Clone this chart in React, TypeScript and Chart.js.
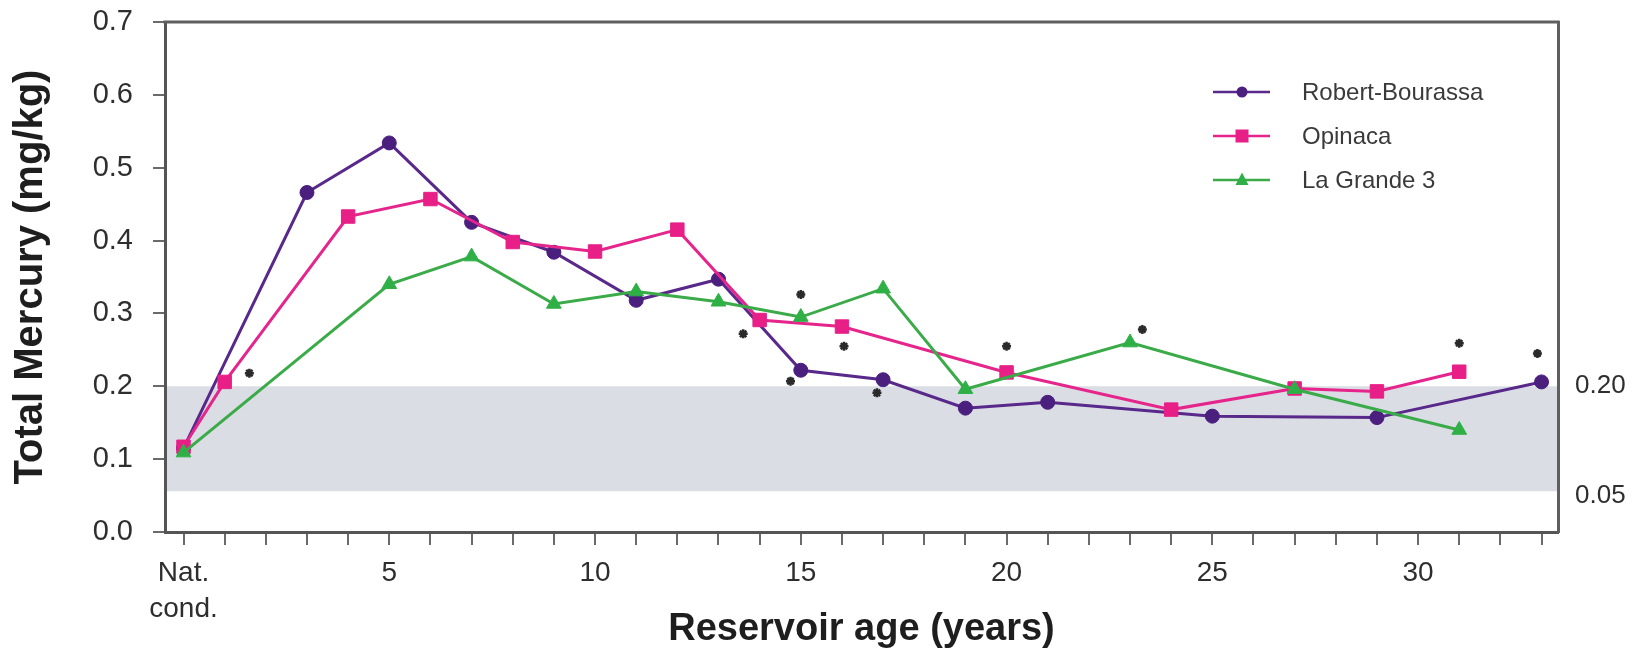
import React, { useEffect, useRef } from 'react';
import { Chart, registerables } from 'chart.js';

Chart.register(...registerables);

// ---- Data ----
const rbYears = [0, 3, 5, 7, 9, 11, 13, 15, 17, 19, 21, 25, 29, 33];
const rbValues = [0.115, 0.466, 0.534, 0.425, 0.384, 0.318, 0.347, 0.222, 0.209, 0.170, 0.178, 0.159, 0.157, 0.206];

const opYears = [0, 1, 4, 6, 8, 10, 12, 14, 16, 20, 24, 27, 29, 31];
const opValues = [0.117, 0.206, 0.433, 0.457, 0.398, 0.385, 0.415, 0.291, 0.282, 0.219, 0.168, 0.197, 0.193, 0.220];

const lgYears = [0, 5, 7, 9, 11, 13, 15, 17, 19, 23, 27, 31];
const lgValues = [0.109, 0.340, 0.378, 0.313, 0.330, 0.316, 0.295, 0.334, 0.196, 0.260, 0.196, 0.140];

// significance asterisks
const starYears = [1.6, 13.6, 14.75, 15.0, 16.05, 16.85, 20.0, 23.3, 31.0, 32.9];
const starValues = [0.218, 0.272, 0.207, 0.326, 0.255, 0.191, 0.255, 0.278, 0.259, 0.245];

const seriesNames = ['Robert-Bourassa', 'Opinaca', 'La Grande 3'];
const xLabelYears = [5, 10, 15, 20, 25, 30];
const natLabel = ['Nat.', 'cond.'];
const yTickValues = [0, 0.1, 0.2, 0.3, 0.4, 0.5, 0.6, 0.7];
const rightTickValues = [0.05, 0.2];
const bandRange = [0.056, 0.2];
const xAxisTitle = 'Reservoir age (years)';
const yAxisTitle = 'Total Mercury (mg/kg)';

const FONT = "'Liberation Sans', Arial, Helvetica, sans-serif";
const COLORS = ['#58288a', '#e5258b', '#3aab48'];
const MARKER_FILL = ['#4a1f7e', '#e81f86', '#2fb046'];
const STYLES = ['circle', 'rect', 'triangle'];
const RADII = [7, 9.5, 8.5];

const toPoints = (xs: number[], ys: number[]) => xs.map((x, i) => ({ x, y: ys[i] }));

const bandPlugin = {
  id: 'band',
  beforeDraw(chart: any) {
    const { ctx, chartArea, scales } = chart;
    const y = scales.y;
    const top = y.getPixelForValue(bandRange[1]);
    const bottom = y.getPixelForValue(bandRange[0]);
    ctx.save();
    ctx.fillStyle = '#dadde4';
    ctx.fillRect(chartArea.left, top, chartArea.right - chartArea.left, bottom - top);
    ctx.restore();
  },
};

const frameTopPlugin = {
  id: 'frameTop',
  afterDraw(chart: any) {
    const { ctx, chartArea } = chart;
    ctx.save();
    ctx.strokeStyle = '#5f5f5f';
    ctx.lineWidth = 3;
    ctx.beginPath();
    ctx.moveTo(chartArea.left - 1.5, chartArea.top);
    ctx.lineTo(chartArea.right + 1.5, chartArea.top);
    ctx.stroke();
    ctx.restore();
  },
};

function drawMarker(ctx: CanvasRenderingContext2D, style: string, x: number, y: number, r: number) {
  ctx.beginPath();
  if (style === 'circle') {
    ctx.arc(x, y, r, 0, Math.PI * 2);
  } else if (style === 'rect') {
    ctx.rect(x - r, y - r, 2 * r, 2 * r);
  } else {
    ctx.moveTo(x, y - r * 1.15);
    ctx.lineTo(x + r, y + r * 0.75);
    ctx.lineTo(x - r, y + r * 0.75);
    ctx.closePath();
  }
  ctx.fill();
}

const legendPlugin = {
  id: 'customLegend',
  afterDraw(chart: any) {
    const { ctx } = chart;
    const x0 = 1213;
    const x1 = 1270;
    const xm = 1242;
    const xt = 1302;
    const y0 = 92;
    const dy = 44;
    const legendR = [5.5, 6.5, 6.5];
    ctx.save();
    chart.data.datasets.forEach((ds: any, i: number) => {
      if (i >= seriesNames.length) return;
      const y = y0 + dy * i;
      ctx.strokeStyle = COLORS[i];
      ctx.lineWidth = 2.5;
      ctx.beginPath();
      ctx.moveTo(x0, y);
      ctx.lineTo(x1, y);
      ctx.stroke();
      ctx.fillStyle = MARKER_FILL[i];
      drawMarker(ctx, STYLES[i], xm, y, legendR[i]);
      ctx.fillStyle = '#3a3a3a';
      ctx.font = `24px ${FONT}`;
      ctx.textBaseline = 'middle';
      ctx.textAlign = 'left';
      ctx.fillText(ds.label, xt, y + 1);
    });
    ctx.restore();
  },
};

export default function App() {
  const canvasRef = useRef<HTMLCanvasElement | null>(null);

  useEffect(() => {
    if (!canvasRef.current) return;
    const lineSeries = [
      toPoints(rbYears, rbValues),
      toPoints(opYears, opValues),
      toPoints(lgYears, lgValues),
    ];
    const datasets: any[] = lineSeries.map((pts, i) => ({
      label: seriesNames[i],
      data: pts,
      borderColor: COLORS[i],
      backgroundColor: MARKER_FILL[i],
      pointBackgroundColor: MARKER_FILL[i],
      pointBorderColor: MARKER_FILL[i],
      borderWidth: 3,
      pointBorderWidth: 1,
      pointStyle: STYLES[i],
      pointRadius: RADII[i],
      fill: false,
      tension: 0,
      order: 3 - i,
    }));
    datasets.push({
      label: 'significant',
      data: toPoints(starYears, starValues),
      showLine: false,
      pointStyle: 'star',
      pointRadius: 4.5,
      pointBorderWidth: 2.5,
      pointBorderColor: '#2a2a2a',
      pointBackgroundColor: '#2a2a2a',
      borderColor: '#2a2a2a',
      order: 0,
    });

    const chart = new Chart(canvasRef.current, {
      type: 'line',
      data: { datasets },
      plugins: [bandPlugin, frameTopPlugin, legendPlugin],
      options: {
        animation: false,
        responsive: true,
        maintainAspectRatio: false,
        layout: { padding: { top: 22, left: 0, right: 0, bottom: 0 } },
        plugins: {
          legend: { display: false },
          tooltip: { enabled: false },
        },
        scales: {
          x: {
            type: 'linear',
            min: -0.45,
            max: 33.4,
            afterBuildTicks: (scale: any) => {
              const t: any[] = [];
              for (let v = 0; v <= 33; v++) t.push({ value: v });
              scale.ticks = t;
            },
            afterFit: (scale: any) => {
              scale.height = 120;
              scale.paddingLeft = 0;
              scale.paddingRight = 0;
            },
            ticks: {
              autoSkip: false,
              maxRotation: 0,
              minRotation: 0,
              padding: 10,
              color: '#2e2e2e',
              font: { family: FONT, size: 28, lineHeight: 1.3 },
              callback: (value: any) => {
                if (value === 0) return natLabel;
                return xLabelYears.includes(value) ? String(value) : '';
              },
            },
            grid: {
              display: true,
              drawOnChartArea: false,
              drawTicks: true,
              tickLength: 13,
              color: '#6a6a6a',
              lineWidth: 2,
            },
            border: { display: true, color: '#555', width: 3 },
            title: {
              display: true,
              text: xAxisTitle,
              color: '#1e1e1e',
              font: { family: FONT, size: 38, weight: 'bold', lineHeight: 1.2 },
              padding: { top: 0, bottom: 0 },
            },
          },
          y: {
            type: 'linear',
            position: 'left',
            min: 0,
            max: 0.7,
            afterBuildTicks: (scale: any) => {
              scale.ticks = yTickValues.map((v) => ({ value: v }));
            },
            afterFit: (scale: any) => {
              scale.width = 165;
              scale.paddingTop = 0;
              scale.paddingBottom = 0;
            },
            ticks: {
              padding: 20,
              color: '#2e2e2e',
              font: { family: FONT, size: 29 },
              callback: (value: any) => Number(value).toFixed(1),
            },
            grid: {
              display: true,
              drawOnChartArea: false,
              drawTicks: true,
              tickLength: 12,
              color: '#6a6a6a',
              lineWidth: 2,
            },
            border: { display: true, color: '#555', width: 3 },
            title: {
              display: true,
              text: yAxisTitle,
              color: '#1e1e1e',
              font: { family: FONT, size: 40, weight: 'bold', lineHeight: 1.2 },
              padding: { top: 7, bottom: 0 },
            },
          },
          y2: {
            type: 'linear',
            position: 'right',
            min: 0,
            max: 0.7,
            afterBuildTicks: (scale: any) => {
              scale.ticks = rightTickValues.map((v) => ({ value: v }));
            },
            afterFit: (scale: any) => {
              scale.width = 84;
              scale.paddingTop = 0;
              scale.paddingBottom = 0;
            },
            ticks: {
              padding: 17,
              color: '#2e2e2e',
              font: { family: FONT, size: 26 },
              callback: (value: any) => Number(value).toFixed(2),
            },
            grid: { display: false, drawTicks: false, drawOnChartArea: false },
            border: { display: true, color: '#5f5f5f', width: 3 },
          },
        },
      } as any,
    });
    return () => chart.destroy();
  }, []);

  return (
    <div style={{ position: 'fixed', left: 0, top: 0, width: 1642, height: 652, background: '#fff' }}>
      <canvas ref={canvasRef} />
    </div>
  );
}
